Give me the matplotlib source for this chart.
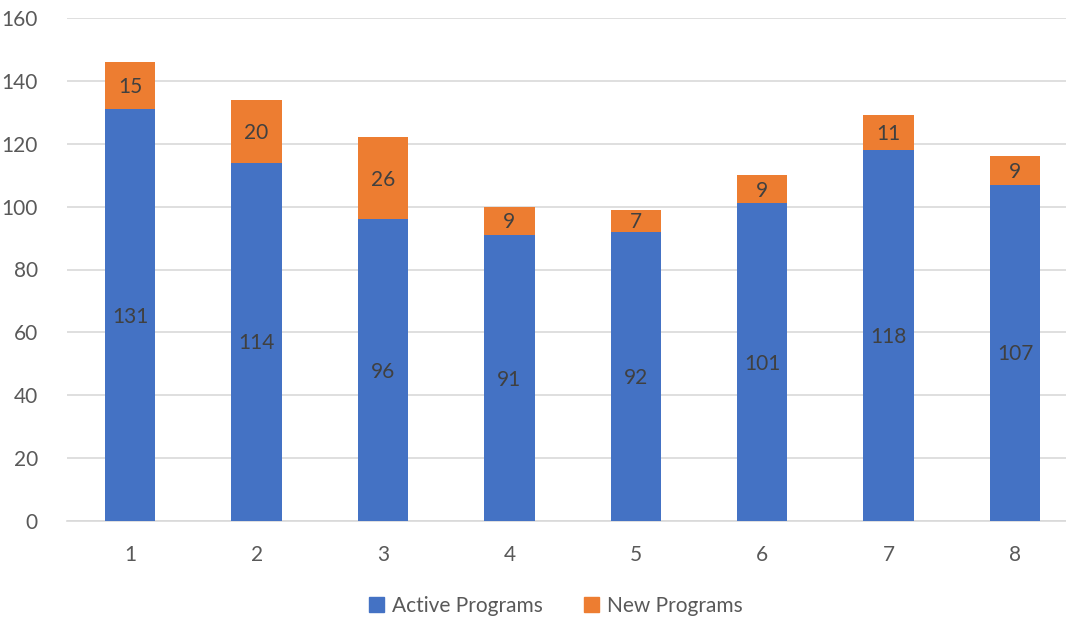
import matplotlib
matplotlib.use("Agg")
import matplotlib.pyplot as plt
from matplotlib.patches import Patch

categories = ["1", "2", "3", "4", "5", "6", "7", "8"]
active = [131, 114, 96, 91, 92, 101, 118, 107]
new = [15, 20, 26, 9, 7, 9, 11, 9]
yticks = [0, 20, 40, 60, 80, 100, 120, 140, 160]

BLUE = "#4472C4"
ORANGE = "#ED7D31"
TICK = "#595959"
LABEL = "#404040"

plt.rcParams["font.family"] = ["Lato", "DejaVu Sans"]

W, H = 1066, 619
fig = plt.figure(figsize=(W / 100, H / 100), dpi=100)
ax = fig.add_axes([67 / W, 1 - 521 / H, 1 - 67 / W, (521 - 18) / H])

x = list(range(1, len(categories) + 1))
width = 0.4
ax.bar(x, active, width, color=BLUE, label="Active Programs", zorder=3)
ax.bar(x, new, width, bottom=active, color=ORANGE, label="New Programs", zorder=3)

for xi, a, n in zip(x, active, new):
    ax.text(xi, a / 2 - 0.5, str(a), ha="center", va="center", fontsize=15, color=LABEL, zorder=4)
    ax.text(xi, a + n / 2 - 0.5, str(n), ha="center", va="center", fontsize=15, color=LABEL, zorder=4)

ax.set_ylim(0, 160)
ax.set_xlim(0.5, 0.5 + (W - 67) / 126.4)
ax.set_yticks(yticks)
ax.set_xticks(x)
ax.set_xticklabels(categories)
ax.yaxis.grid(True, color="#D9D9D9", linewidth=1.2, zorder=0)
ax.set_axisbelow(True)
for s in ["top", "right", "left"]:
    ax.spines[s].set_visible(False)
ax.spines["bottom"].set_color("#D9D9D9")
ax.spines["bottom"].set_linewidth(1.2)
ax.tick_params(axis="both", length=0, labelsize=15, labelcolor=TICK)
ax.tick_params(axis="y", pad=21)
ax.tick_params(axis="x", pad=17)

handles = [Patch(color=BLUE, label="Active Programs"), Patch(color=ORANGE, label="New Programs")]
fig.legend(handles=handles, loc="center", bbox_to_anchor=(556 / W, 1 - 606 / H), ncol=2,
           frameon=False, fontsize=15, labelcolor=TICK, handlelength=0.7, handleheight=0.7,
           handletextpad=0.4, columnspacing=2.0)

fig.savefig("out.png", dpi=100)
